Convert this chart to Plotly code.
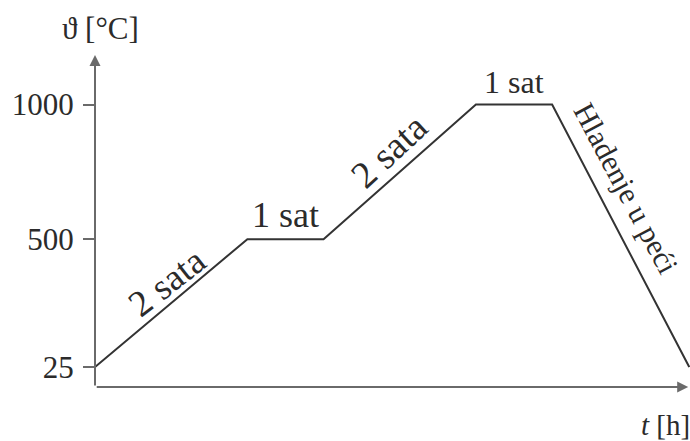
import plotly.graph_objects as go

# Data (schematic heat-treatment cycle)
times = [0, 2, 3, 5, 6, 7.8]            # t [h]
temps = [25, 500, 500, 1000, 1000, 25]  # temperature [°C]
y_ticks = [25, 500, 1000]
seg_labels = ["2 sata", "1 sat", "2 sata", "1 sat", "Hladenje u peći"]

FONT = "Liberation Serif, Times New Roman, serif"
LINE_COL = "#333333"
AXIS_COL = "#6a6a6a"
TXT_COL = "#2b2b2b"

fig = go.Figure()
fig.add_trace(go.Scatter(x=times, y=temps, mode="lines",
                         line=dict(color=LINE_COL, width=2), hoverinfo="skip",
                         showlegend=False))

# segment label placement (pixel nudges / rotation / size)
angles = [-38, 0, -43, 0, 62]
shifts = [(-5, 21), (0, 24), (-11, 21), (0, 23), (5, 48)]
sizes = [37, 36, 38, 32, 30]
for i, lab in enumerate(seg_labels):
    xm = (times[i] + times[i + 1]) / 2
    ym = (temps[i] + temps[i + 1]) / 2
    fig.add_annotation(x=xm, y=ym, text=lab, showarrow=False, textangle=angles[i],
                       xshift=shifts[i][0], yshift=shifts[i][1],
                       font=dict(family=FONT, size=sizes[i], color=TXT_COL))

# axes drawn as arrows
fig.add_annotation(xref="paper", yref="paper", x=0, y=1, ax=0, ay=332,
                   axref="pixel", ayref="pixel", showarrow=True, arrowhead=2,
                   arrowsize=1.1, arrowwidth=2, arrowcolor=AXIS_COL, text="")
fig.add_annotation(xref="paper", yref="paper", x=0.997, y=0, ax=-593, ay=0,
                   showarrow=True, arrowhead=2, arrowsize=1.1, arrowwidth=2,
                   arrowcolor=AXIS_COL, text="")

# axis titles
fig.add_annotation(xref="paper", yref="paper", x=0.01, y=1.0, yshift=27,
                   text="ϑ [°C]", showarrow=False, xanchor="center", yanchor="middle",
                   font=dict(family=FONT, size=31, color=TXT_COL))
fig.add_annotation(xref="paper", yref="paper", x=0.958, y=0, yshift=-38,
                   text="<i>t</i> [h]", showarrow=False, xanchor="center", yanchor="middle",
                   font=dict(family=FONT, size=29, color=TXT_COL))

fig.update_xaxes(range=[0, 7.81], showline=False, showgrid=False, zeroline=False,
                 showticklabels=False, ticks="")
fig.update_yaxes(range=[-49, 1184], showline=False, showgrid=False, zeroline=False,
                 tickmode="array", tickvals=y_ticks, ticktext=[str(v) for v in y_ticks],
                 ticks="outside", ticklen=11, tickwidth=2, tickcolor=AXIS_COL,
                 ticklabelstandoff=3,
                 tickfont=dict(family=FONT, size=31, color=TXT_COL))

fig.update_layout(width=690, height=441, margin=dict(l=95, r=0, t=55, b=54),
                  plot_bgcolor="white", paper_bgcolor="white")

fig.write_html("out.html", config={"displayModeBar": False},
               post_script="document.body.style.margin='0';document.body.style.padding='0';")
